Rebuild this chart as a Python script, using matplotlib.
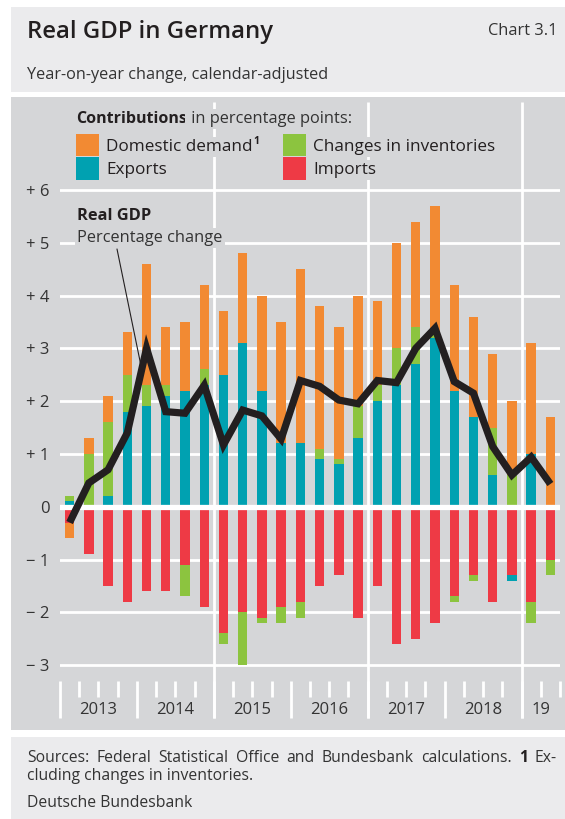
import matplotlib
matplotlib.use("Agg")
import matplotlib.pyplot as plt
import numpy as np
from matplotlib.patches import Rectangle

plt.rcParams['font.family'] = ['Open Sans', 'DejaVu Sans']

# ---------------- data ----------------
quarters = [f"{y} Q{q}" for y in range(2013, 2020) for q in range(1, 5)][:26]
year_labels = ['2013', '2014', '2015', '2016', '2017', '2018', '19']

exports = [0.1, 0.0, 0.2, 1.8, 1.9, 2.1, 2.2, 2.3, 2.5, 3.1, 2.2, 1.2, 1.2,
           0.9, 0.8, 1.3, 2.0, 2.3, 2.7, 3.2, 2.2, 1.7, 0.6, -0.1, 1.0, 0.0]
inventories = [0.1, 1.0, 1.4, 0.7, 0.4, 0.2, -0.6, 0.3, -0.2, -1.0, -0.1, -0.3, -0.3,
               0.2, 0.1, 0.6, 0.3, 0.7, 0.7, 0.1, -0.1, -0.1, 0.9, 0.6, -0.4, -0.3]
domestic = [-0.3, 0.3, 0.5, 0.8, 2.3, 1.1, 1.3, 1.6, 1.2, 1.7, 1.8, 2.3, 3.3,
            2.7, 2.5, 2.1, 1.6, 2.0, 2.0, 2.4, 2.0, 1.9, 1.4, 1.4, 2.1, 1.7]
imports = [-0.3, -0.9, -1.5, -1.8, -1.6, -1.6, -1.1, -1.9, -2.4, -2.0, -2.1, -1.9, -1.8,
           -1.5, -1.3, -2.1, -1.5, -2.6, -2.5, -2.2, -1.7, -1.3, -1.8, -1.3, -1.8, -1.0]
gdp = [-0.3, 0.45, 0.7, 1.4, 3.0, 1.8, 1.77, 2.3, 1.17, 1.83, 1.72, 1.28, 2.39,
       2.28, 2.02, 1.95, 2.39, 2.35, 3.0, 3.38, 2.37, 2.15, 1.14, 0.6, 0.94, 0.43]

yticks = [-3, -2, -1, 0, 1, 2, 3, 4, 5, 6]
ytick_labels = ['\u2212 3', '\u2212 2', '\u2212 1', '0', '+ 1', '+ 2', '+ 3', '+ 4', '+ 5', '+ 6']

# ---------------- style ----------------
ORANGE = '#f28a33'
TEAL = '#00a1b1'
GREEN = '#8cc43f'
RED = '#ee3a45'
PANEL = '#d5d6d8'
LIGHT = '#ebebed'
TXT = '#333333'
DARK = '#231f20'

W, H = 565, 819
fig = plt.figure(figsize=(W / 100, H / 100), dpi=100)


def fx(px):
    return px / W


def fy(py):
    return 1 - py / H


def rect(x0, y0, x1, y1, color, z=-5):
    fig.patches.append(Rectangle((fx(x0), fy(y1)), fx(x1) - fx(x0), fy(y0) - fy(y1),
                                 transform=fig.transFigure, facecolor=color,
                                 edgecolor='none', zorder=z))


rect(11, 7, 565, 92, LIGHT)
rect(11, 97, 565, 730, PANEL)
rect(11, 737, 565, 819, LIGHT)

# header texts
fig.text(fx(27), fy(38), 'Real GDP in Germany', fontsize=17.2, fontweight='semibold',
         color=DARK, va='baseline', ha='left')
fig.text(fx(557), fy(35), 'Chart 3.1', fontsize=11.8, color=TXT, va='baseline', ha='right')
fig.text(fx(27), fy(79), 'Year-on-year change, calendar-adjusted', fontsize=11.7,
         color=TXT, va='baseline', ha='left')

# ---------------- axes ----------------
ZERO_PX, UNIT_PX = 506.7, 52.8
AX_TOP, AX_BOT = 102, 730
ax = fig.add_axes([fx(60), fy(AX_BOT), fx(560) - fx(60), fy(AX_TOP) - fy(AX_BOT)])
ax.set_facecolor('none')
ax.set_zorder(1)
for s in ax.spines.values():
    s.set_visible(False)


def val(py):
    return (ZERO_PX - py) / UNIT_PX


ax.set_ylim(val(AX_BOT), val(AX_TOP))
n = len(quarters)
x = np.arange(n)
ax.set_xlim(-0.5, n - 0.5)
ax.set_xticks([])
ax.set_yticks(yticks)
ax.set_yticklabels(ytick_labels)
ax.tick_params(axis='y', length=0, pad=7.5, labelsize=12, labelcolor=TXT)

# grid
for v in yticks:
    if v == 0:
        continue
    ax.axhline(v, color='white', lw=2.0, zorder=1)
ax.axhline(0, color='white', lw=3.8, zorder=3)

short_lo, short_hi, long_hi = val(681), val(697), val(718)
for k in range(n + 1):
    xb = k - 0.5
    top = long_hi if k % 4 == 0 else short_hi
    ax.plot([xb, xb], [short_lo, top], color='white', lw=2.0, clip_on=False,
            solid_capstyle='butt', zorder=1)
for k in (8, 16, 24):
    ax.plot([k - 0.5, k - 0.5], [long_hi, val(AX_TOP)], color='white', lw=2.0,
            solid_capstyle='butt', zorder=1)

for j, lab in enumerate(year_labels):
    xc = 4 * j + 1.5 if j < 6 else 4 * j + 0.5
    ax.text(xc, val(710), lab, ha='center', va='center', fontsize=12, color=TXT)

# bars
series = [(imports, RED), (exports, TEAL), (inventories, GREEN), (domestic, ORANGE)]
pb = np.zeros(n)
nb = np.zeros(n)
for vals, col in series:
    v = np.array(vals, dtype=float)
    pos = np.where(v > 0, v, 0)
    neg = np.where(v < 0, v, 0)
    ax.bar(x, pos, bottom=pb, width=0.49, color=col, zorder=2, linewidth=0)
    ax.bar(x, neg, bottom=nb, width=0.49, color=col, zorder=2, linewidth=0)
    pb += pos
    nb += neg

ax.plot(x, gdp, color=DARK, lw=5.2, zorder=5, solid_joinstyle='miter',
        solid_capstyle='butt')

# leader line from label to GDP line
xa = 3.75
ya = gdp[3] + 0.75 * (gdp[4] - gdp[3])
ax.annotate('', xy=(xa, ya), xytext=(fx(117), fy(249)), textcoords='figure fraction',
            arrowprops=dict(arrowstyle='-', color=DARK, lw=0.8, shrinkA=0, shrinkB=0),
            zorder=4)

# ---------------- texts in pixel coordinates ----------------
tb = dict(facecolor=PANEL, edgecolor='none', pad=1.5)
tax = fig.add_axes([0, 0, 1, 1], facecolor='none')
tax.set_xlim(0, W)
tax.set_ylim(H, 0)
tax.axis('off')
tax.set_zorder(2)

fig.canvas.draw()
renderer = fig.canvas.get_renderer()


def seq(parts, x0, y0, ax_=tax):
    """Write consecutive text pieces on one baseline (pixel coords)."""
    xcur = x0
    out = []
    for s, kw in parts:
        t = ax_.text(xcur, y0, s, va='baseline', ha='left', **kw)
        bb = t.get_window_extent(renderer)
        xcur += bb.width
        out.append(t)
    return out


def justified(words, x0, x1, y0):
    """Words = list of (text, kwargs); spread over [x0, x1]."""
    widths = []
    for s, kw in words:
        t = tax.text(0, 0, s, **kw)
        widths.append(t.get_window_extent(renderer).width)
        t.remove()
    gap = (x1 - x0 - sum(widths)) / (len(words) - 1)
    xcur = x0
    for (s, kw), w in zip(words, widths):
        tax.text(xcur, y0, s, va='baseline', ha='left', **kw)
        xcur += w + gap


seq([('Real GDP', dict(fontsize=11.8, fontweight='bold', color=DARK, bbox=tb))], 77, 220)
seq([('Percentage change', dict(fontsize=11.8, color=TXT, bbox=tb))], 77, 242)

seq([('Contributions', dict(fontsize=11.5, fontweight='bold', color=DARK, bbox=tb)),
     (' in percentage points:', dict(fontsize=11.8, color=TXT, bbox=tb))], 76, 123)

legend_items = [('Domestic demand', ORANGE, 76, 134, 156, 106, 151),
                ('Exports', TEAL, 76, 157, 180, 106, 174),
                ('Changes in inventories', GREEN, 283, 134, 156, 313, 151),
                ('Imports', RED, 283, 157, 180, 313, 174)]
for lab, col, px0, py0, py1, tx, ty in legend_items:
    tax.add_patch(Rectangle((px0, py0), 23, py1 - py0, facecolor=col, edgecolor='none'))
    ts = seq([(lab, dict(fontsize=12.3, color=DARK, bbox=tb))], tx, ty)
    if lab == 'Domestic demand':
        bb = ts[0].get_window_extent(renderer)
        tax.text(tx + bb.width + 1, ty - 7, '1', fontsize=7.5, fontweight='bold',
                 color=DARK, va='baseline', ha='left')

# footer
FS = 11.3
reg = dict(fontsize=FS, color=TXT)
bold = dict(fontsize=FS, fontweight='bold', color=DARK)
line1 = [(w, reg) for w in 'Sources: Federal Statistical Office and Bundesbank calculations.'.split()]
line1 += [('1', bold), ('Ex-', reg)]
justified(line1, 27, 557, 762)
seq([('cluding changes in inventories.', reg)], 27, 780)
seq([('Deutsche Bundesbank', reg)], 27, 807)

fig.savefig('out.png', dpi=100, facecolor='white')
